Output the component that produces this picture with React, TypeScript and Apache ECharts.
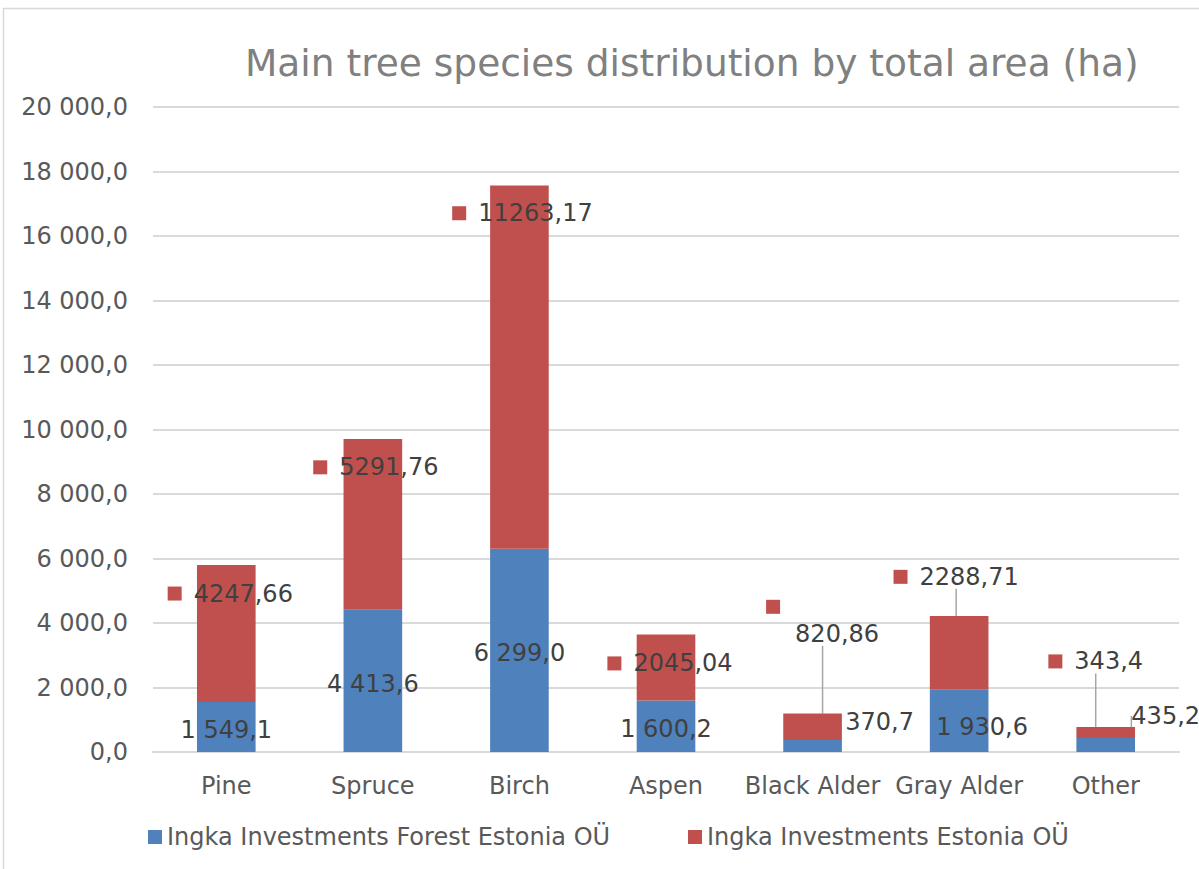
import React, { useEffect, useRef } from 'react';
import * as echarts from 'echarts';

const categories = ['Pine', 'Spruce', 'Birch', 'Aspen', 'Black Alder', 'Gray Alder', 'Other'];
const forestValues = [1549.1, 4413.6, 6299.0, 1600.2, 370.7, 1930.6, 435.2];
const estoniaValues = [4247.66, 5291.76, 11263.17, 2045.04, 820.86, 2288.71, 343.4];
const seriesNames = ['Ingka Investments Forest Estonia OÜ', 'Ingka Investments Estonia OÜ'];
const yMin = 0;
const yMax = 20000;
const yStep = 2000;
const titleText = 'Main tree species distribution by total area (ha)';

// label displacement from default (segment centre), in px
const forestLabelShift = [[0, 3], [0, 3], [0, 3], [0, 3], [67, -24], [23, 6], [60, -29]];
const estoniaLabelShift = [[4, -40], [3, -57], [3, -154], [4, -4], [10, -106], [-3, -76], [-10, -71]];
const forestLeader = [false, false, false, false, false, false, true];
const estoniaLeader = [false, false, false, false, true, true, true];

const BLUE = '#4F81BD';
const RED = '#C0504D';
const FONT = '"DejaVu Sans", Verdana, sans-serif';

function fmtGrouped(v: number, dec: number): string {
  const s = v.toFixed(dec);
  const [intPart, decPart] = s.split('.');
  const grouped = intPart.replace(/\B(?=(\d{3})+(?!\d))/g, ' ');
  return decPart !== undefined ? grouped + ',' + decPart : grouped;
}
function fmtRaw(v: number): string {
  return String(v).replace('.', ',');
}

export default function App() {
  const ref = useRef<HTMLDivElement>(null);
  useEffect(() => {
    if (!ref.current) return;
    const chart = echarts.init(ref.current, undefined, { renderer: 'svg' });
    const leaderStyle = { color: '#a6a6a6', width: 1.5 };
    chart.setOption({
      animation: false,
      backgroundColor: '#ffffff',
      textStyle: { fontFamily: FONT },
      graphic: [
        {
          type: 'rect',
          z: -1,
          shape: { x: 3.5, y: 8.5, width: 1400, height: 1000 },
          style: { fill: 'none', stroke: '#d9d9d9', lineWidth: 1.5 },
          silent: true,
        },
      ],
      title: {
        text: titleText,
        left: 245,
        top: 44,
        padding: 0,
        textStyle: { fontFamily: FONT, fontSize: 37.5, fontWeight: 'normal', color: '#808080' },
      },
      legend: [
        {
          data: [seriesNames[0]],
          left: 148,
          top: 825,
          padding: 0,
          icon: 'rect',
          itemWidth: 14,
          itemHeight: 14,
          textStyle: { fontFamily: FONT, fontSize: 24, color: '#595959' },
        },
        {
          data: [seriesNames[1]],
          left: 688,
          top: 825,
          padding: 0,
          icon: 'rect',
          itemWidth: 14,
          itemHeight: 14,
          textStyle: { fontFamily: FONT, fontSize: 24, color: '#595959' },
        },
      ],
      grid: { left: 153, right: 20, top: 107, bottom: 117, containLabel: false },
      xAxis: {
        type: 'category',
        data: categories,
        axisLine: { show: true, lineStyle: { color: '#d9d9d9', width: 2 } },
        axisTick: { show: false },
        axisLabel: { fontFamily: FONT, fontSize: 24, color: '#595959', margin: 22, interval: 0 },
      },
      yAxis: {
        type: 'value',
        min: yMin,
        max: yMax,
        interval: yStep,
        axisLine: { show: false },
        axisTick: { show: false },
        splitLine: { lineStyle: { color: '#d9d9d9', width: 2 } },
        axisLabel: {
          fontFamily: FONT,
          fontSize: 24,
          color: '#595959',
          margin: 25,
          formatter: (v: number) => fmtGrouped(v, 1),
        },
      },
      series: [
        {
          name: seriesNames[0],
          type: 'bar',
          stack: 'total',
          barWidth: '40%',
          itemStyle: { color: BLUE },
          data: forestValues.map((v, i) => ({
            value: v,
            labelLine: { show: forestLeader[i], lineStyle: leaderStyle },
          })),
          label: {
            show: true,
            position: 'inside',
            fontFamily: FONT,
            fontSize: 24,
            color: '#404040',
            formatter: (p: any) => fmtGrouped(p.value, 1),
          },
          labelLayout: (p: any) => ({
            dx: forestLabelShift[p.dataIndex][0],
            dy: forestLabelShift[p.dataIndex][1],
          }),
        },
        {
          name: seriesNames[1],
          type: 'bar',
          stack: 'total',
          barWidth: '40%',
          itemStyle: { color: RED },
          data: estoniaValues.map((v, i) => ({
            value: v,
            labelLine: { show: estoniaLeader[i], lineStyle: leaderStyle },
          })),
          label: {
            show: true,
            position: 'inside',
            fontFamily: FONT,
            fontSize: 24,
            color: '#404040',
            formatter: (p: any) => {
              const t = fmtRaw(p.value);
              if (p.dataIndex === 4) return `{k2|}\n{g2|}{v2|${t}}`;
              return `{k|}{g|}{v|${t}}`;
            },
            rich: {
              k: { width: 14, height: 14, backgroundColor: RED, verticalAlign: 'middle' },
              g: { width: 12, height: 14 },
              v: { fontFamily: FONT, fontSize: 24, color: '#404040', lineHeight: 28 },
              k2: { width: 14, height: 14, backgroundColor: RED, align: 'left', lineHeight: 26 },
              g2: { width: 29, height: 14, lineHeight: 28 },
              v2: { fontFamily: FONT, fontSize: 24, color: '#404040', lineHeight: 28 },
            },
          },
          labelLayout: (p: any) => ({
            dx: estoniaLabelShift[p.dataIndex][0],
            dy: estoniaLabelShift[p.dataIndex][1],
          }),
        },
      ],
    });
    return () => chart.dispose();
  }, []);
  return (
    <div
      ref={ref}
      style={{ position: 'absolute', left: 0, top: 0, width: 1199, height: 869 }}
    />
  );
}
